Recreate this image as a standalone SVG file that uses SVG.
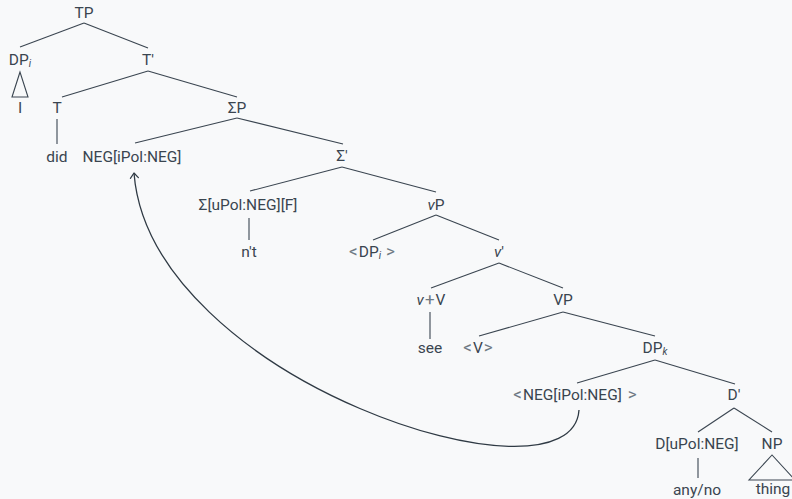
<svg xmlns="http://www.w3.org/2000/svg" width="792" height="499" viewBox="0 0 792 499">
  <defs>
    <style>
      .lbl { font-family: Roboto, "Liberation Sans", sans-serif; font-size: 15.5px; fill: #3a4550; text-anchor: middle; }
      .it { font-style: italic; }
      .sub { font-size: 10px; font-style: italic; }
      .rel { fill: #6f7a84; font-size: 17px; }
      .edge { stroke: #3a4550; stroke-width: 1.1; fill: none; }
      .move { stroke: #2f3a44; stroke-width: 1.3; fill: none; }
    </style>
    <marker id="arrow" viewBox="-6 -5 8 10" markerWidth="8" markerHeight="10" refX="0" refY="0" orient="auto" markerUnits="userSpaceOnUse">
      <path d="M-5,-4 L0,0 L-5,4" stroke="#2f3a44" stroke-width="1.2" fill="none" stroke-linecap="round" stroke-linejoin="round"/>
    </marker>
  </defs>

  <rect x="0" y="0" width="792" height="499" fill="#f8f9fa"/>

  <!-- tree branches and movement arrow -->
  <g id="connectors">
    <line class="edge" x1="84" y1="23" x2="20" y2="47"/>
    <line class="edge" x1="84" y1="23" x2="148" y2="48"/>
    <polygon class="edge" points="20,72 12,97 28,97"/>
    <line class="edge" x1="148" y1="71" x2="62" y2="97"/>
    <line class="edge" x1="148" y1="71" x2="237" y2="97"/>
    <line class="edge" x1="57" y1="119" x2="57" y2="144"/>
    <line class="edge" x1="237" y1="118" x2="135" y2="143"/>
    <line class="edge" x1="237" y1="118" x2="343" y2="144"/>
    <line class="edge" x1="342" y1="167" x2="250" y2="191"/>
    <line class="edge" x1="342" y1="167" x2="436" y2="192"/>
    <line class="edge" x1="249" y1="218" x2="249" y2="240"/>
    <line class="edge" x1="436" y1="215" x2="373" y2="240"/>
    <line class="edge" x1="436" y1="215" x2="499" y2="240"/>
    <line class="edge" x1="499" y1="263" x2="431" y2="288"/>
    <line class="edge" x1="499" y1="263" x2="563" y2="288"/>
    <line class="edge" x1="430" y1="312" x2="430" y2="339"/>
    <line class="edge" x1="563" y1="312" x2="479" y2="336"/>
    <line class="edge" x1="563" y1="312" x2="655" y2="336"/>
    <line class="edge" x1="655" y1="360" x2="577" y2="383"/>
    <line class="edge" x1="655" y1="360" x2="735" y2="384"/>
    <line class="edge" x1="734" y1="408" x2="698" y2="432"/>
    <line class="edge" x1="734" y1="408" x2="772" y2="432"/>
    <line class="edge" x1="698" y1="458" x2="698" y2="478"/>
    <polygon class="edge" points="772,455 749,480 795,480"/>
    <path class="move" d="M579,410 C572,515 150,380 134,173" marker-end="url(#arrow)"/>
  </g>

  <g id="n-TP"><text class="lbl" x="84" y="18">TP</text></g>
  <g id="n-DPi"><text class="lbl" x="20" y="65">DP<tspan class="sub" dy="2">i</tspan></text></g>
  <g id="n-I"><text class="lbl" x="20" y="113">I</text></g>
  <g id="n-Tbar"><text class="lbl" x="148" y="65">T'</text></g>
  <g id="n-T"><text class="lbl" x="57" y="113">T</text></g>
  <g id="n-did"><text class="lbl" x="57" y="162">did</text></g>
  <g id="n-SigmaP"><text class="lbl" x="237" y="113">ΣP</text></g>
  <g id="n-NEG"><text class="lbl" x="132" y="162">NEG[iPol:NEG]</text></g>
  <g id="n-Sigmabar"><text class="lbl" x="342" y="161">Σ'</text></g>
  <g id="n-Sigma"><text class="lbl" x="248" y="210">Σ[uPol:NEG][F]</text></g>
  <g id="n-nt"><text class="lbl" x="249" y="257">n't</text></g>
  <g id="n-vP"><text class="lbl" x="436" y="210"><tspan class="it">v</tspan>P</text></g>
  <g id="n-DPi-copy"><text class="lbl" x="372" y="257"><tspan class="rel">&lt;</tspan><tspan dx="1">DP</tspan><tspan class="sub" dy="2">i</tspan><tspan dy="-2" dx="5" class="rel">&gt;</tspan></text></g>
  <g id="n-vbar"><text class="lbl" x="499" y="257"><tspan class="it">v</tspan>'</text></g>
  <g id="n-vV"><text class="lbl" x="431" y="305"><tspan class="it">v</tspan><tspan class="rel" dx="1">+</tspan><tspan dx="1">V</tspan></text></g>
  <g id="n-see"><text class="lbl" x="430" y="353">see</text></g>
  <g id="n-VP"><text class="lbl" x="563" y="305">VP</text></g>
  <g id="n-V-copy"><text class="lbl" x="478" y="353"><tspan class="rel">&lt;</tspan><tspan dx="1">V</tspan><tspan class="rel" dx="1">&gt;</tspan></text></g>
  <g id="n-DPk"><text class="lbl" x="655" y="353">DP<tspan class="sub" dy="2">k</tspan></text></g>
  <g id="n-NEG-copy"><text class="lbl" x="575" y="400"><tspan class="rel">&lt;</tspan><tspan dx="1">NEG[iPol:NEG]</tspan><tspan class="rel" dx="6">&gt;</tspan></text></g>
  <g id="n-Dbar"><text class="lbl" x="734" y="400">D'</text></g>
  <g id="n-D"><text class="lbl" x="697" y="449">D[uPol:NEG]</text></g>
  <g id="n-anyno"><text class="lbl" x="697" y="495">any/no</text></g>
  <g id="n-NP"><text class="lbl" x="772" y="449">NP</text></g>
  <g id="n-thing"><text class="lbl" x="773" y="494">thing</text></g>
</svg>
